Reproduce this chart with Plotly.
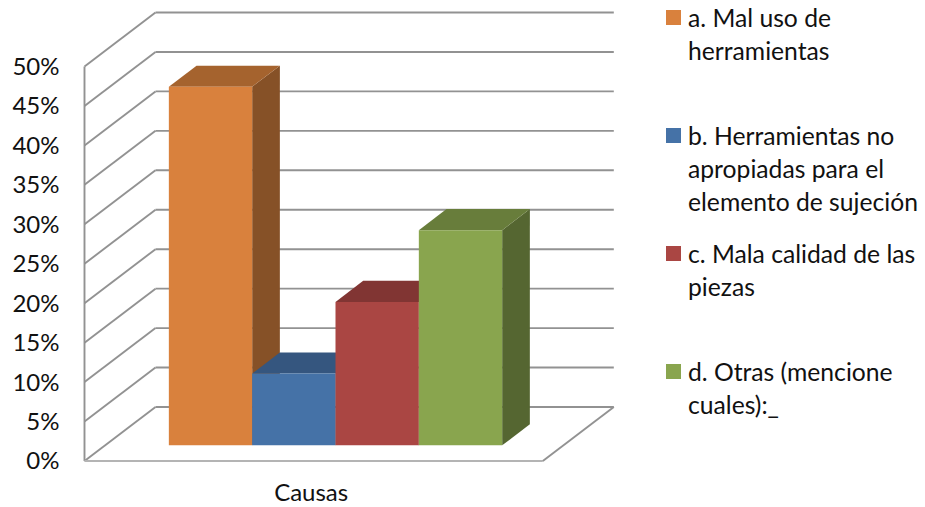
import plotly.graph_objects as go

# Share of answers per cause (percent); each cause name is wrapped over several lines
categories = [
    ["a. Mal uso de", "herramientas"],
    ["b. Herramientas no", "apropiadas para el", "elemento de sujeción"],
    ["c. Mala calidad de las", "piezas"],
    ["d. Otras (mencione", "cuales):_"],
]
values = [45.45, 9.09, 18.18, 27.27]
front_colors = ["#D9813D", "#4572A7", "#AA4643", "#89A54E"]
top_colors = ["#A5632E", "#35567F", "#813533", "#687D3B"]
side_colors = ["#865127", "#2B4567", "#692B29", "#556631"]
tick_values = [0, 5, 10, 15, 20, 25, 30, 35, 40, 45, 50]
tick_labels = ["0%", "5%", "10%", "15%", "20%", "25%", "30%", "35%", "40%", "45%", "50%"]
group_label = "Causas"

WIDTH, HEIGHT = 925, 507
FONT = "Lato"
TEXT = "#111111"
GRID = "#929292"

# Oblique box: one x unit is one bar wide, a depth of 1 runs from front to back wall
BAR_PX = 83.33
PCT_PX = 7.89
ORIGIN_X_PX, ORIGIN_Y_PX = 84.5, 461.0
SHEAR_X = 71.0 / BAR_PX
SHEAR_Y = 54.0 / PCT_PX
FLOOR_WIDTH = 5.5
GAP = 0.765
BAR_FRONT, BAR_BACK = 0.29, 0.68

# Key placement, in pixels from the top-left corner
KEY_SWATCH_X, KEY_TEXT_X = 666, 685.5
KEY_SWATCH_SIZE = 15
KEY_FIRST_Y, KEY_STEP, KEY_LINE = 17.5, 118, 33


def project(x, value, depth):
    return x + depth * SHEAR_X, value + depth * SHEAR_Y


def polygon(corners):
    pts = [project(*c) for c in corners] + [project(*corners[0])]
    return [p[0] for p in pts], [p[1] for p in pts]


def segments(pairs):
    xs, ys = [], []
    for a, b in pairs:
        pa, pb = project(*a), project(*b)
        xs += [pa[0], pb[0], None]
        ys += [pa[1], pb[1], None]
    return xs, ys


fig = go.Figure()


def line_trace(pairs, color, width):
    xs, ys = segments(pairs)
    fig.add_trace(go.Scatter(x=xs, y=ys, mode="lines", showlegend=False, hoverinfo="skip",
                             line=dict(color=color, width=width)))


# Walls: horizontal lines on the back wall and their diagonals on the side wall
wall = []
for t in tick_values:
    wall.append(((0, t, 1), (FLOOR_WIDTH, t, 1)))
    wall.append(((0, t, 0), (0, t, 1)))
wall.append(((0, 0, 0), (0, tick_values[-1], 0)))
line_trace(wall, GRID, 1.9)

# Floor edges
line_trace([((0, 0, 0), (FLOOR_WIDTH, 0, 0))], "#B4B4B4", 2)
line_trace([((FLOOR_WIDTH, 0, 0), (FLOOR_WIDTH, 0, 1))], GRID, 1.9)


def face(corners, color, name):
    xs, ys = polygon(corners)
    fig.add_trace(go.Scatter(x=xs, y=ys, mode="lines", fill="toself", fillcolor=color, name=name,
                             line=dict(width=0, color=color), showlegend=False, hoverinfo="skip"))


# Bars, left to right so each one covers the side of the previous one
for i, v in enumerate(values):
    x0, x1 = GAP + i, GAP + i + 1
    label = " ".join(categories[i])
    face([(x1, 0, BAR_FRONT), (x1, 0, BAR_BACK), (x1, v, BAR_BACK), (x1, v, BAR_FRONT)], side_colors[i], label)
    face([(x0, v, BAR_FRONT), (x1, v, BAR_FRONT), (x1, v, BAR_BACK), (x0, v, BAR_BACK)], top_colors[i], label)
    face([(x0, 0, BAR_FRONT), (x1, 0, BAR_FRONT), (x1, v, BAR_FRONT), (x0, v, BAR_FRONT)], front_colors[i], label)

# Key on the right: one swatch per cause, its wrapped name line by line
key_shapes, key_notes = [], []
for i, (lines, color) in enumerate(zip(categories, front_colors)):
    cy = KEY_FIRST_Y + i * KEY_STEP
    half = KEY_SWATCH_SIZE / 2
    key_shapes.append(dict(type="rect", xref="paper", yref="paper", fillcolor=color, line_width=0,
                           x0=KEY_SWATCH_X / WIDTH, x1=(KEY_SWATCH_X + KEY_SWATCH_SIZE) / WIDTH,
                           y0=1 - (cy + half) / HEIGHT, y1=1 - (cy - half) / HEIGHT))
    for j, line in enumerate(lines):
        key_notes.append(dict(text=line, xref="paper", yref="paper", showarrow=False,
                              x=KEY_TEXT_X / WIDTH, xanchor="left",
                              y=1 - (cy + j * KEY_LINE) / HEIGHT, yanchor="middle",
                              font=dict(family=FONT, size=24.7, color=TEXT)))

fig.update_layout(
    width=WIDTH,
    height=HEIGHT,
    margin=dict(l=0, r=0, t=0, b=0),
    paper_bgcolor="white",
    plot_bgcolor="white",
    font=dict(family=FONT, size=24, color=TEXT),
    showlegend=False,
    shapes=key_shapes,
    annotations=key_notes,
    xaxis=dict(
        automargin=False,
        range=[-ORIGIN_X_PX / BAR_PX, (WIDTH - ORIGIN_X_PX) / BAR_PX],
        domain=[0, 1],
        anchor="free",
        position=(HEIGHT - ORIGIN_Y_PX) / HEIGHT,
        showgrid=False, zeroline=False, showline=False,
        tickmode="array", tickvals=[2.72], ticktext=[group_label],
        ticks="", ticklabelstandoff=15,
        tickfont=dict(family=FONT, size=24, color=TEXT),
    ),
    yaxis=dict(
        automargin=False,
        range=[-(HEIGHT - ORIGIN_Y_PX) / PCT_PX, ORIGIN_Y_PX / PCT_PX],
        domain=[0, 1],
        anchor="free",
        position=ORIGIN_X_PX / WIDTH,
        showgrid=False, zeroline=False, showline=False,
        tickmode="array", tickvals=tick_values, ticktext=tick_labels,
        ticks="", ticklabelstandoff=25,
        tickfont=dict(family=FONT, size=24, color=TEXT),
    ),
)

fig.write_html("out.html", config=dict(displayModeBar=False))
